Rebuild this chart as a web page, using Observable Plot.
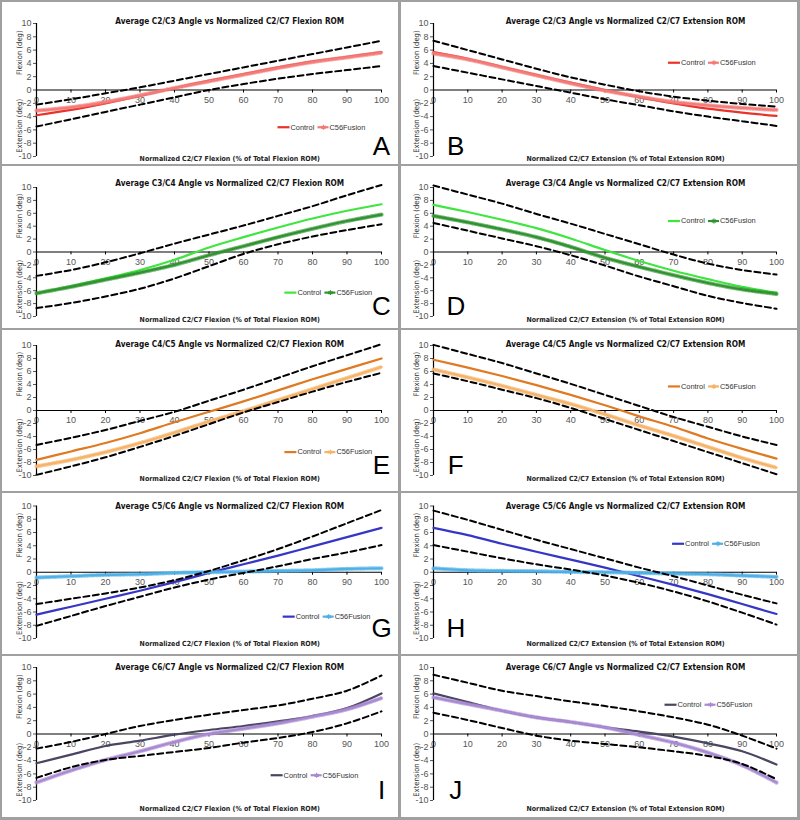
<!DOCTYPE html>
<html><head><meta charset="utf-8">
<script src="https://cdn.jsdelivr.net/npm/d3@7"></script>
<script src="https://cdn.jsdelivr.net/npm/@observablehq/plot@0.6"></script>
<style>
body{margin:0;background:#fff;}
#grid{position:relative;width:800px;height:820px;background:#a0a0a0;}
.panel{position:absolute;background:#fff;overflow:hidden;}
.panel svg{display:block;}
</style></head><body><div id="grid"></div>
<script>
// ---------- data ----------
const xs = [0,10,20,30,40,50,60,70,80,90,100];
const xTicks = [0,10,20,30,40,50,60,70,80,90,100];
const yTicks = [-10,-8,-6,-4,-2,0,2,4,6,8,10];
const seriesNames = ["Control","C56Fusion"];
const panelLetters = ["A","B","C","D","E","F","G","H","I","J"];
const panelTitles = [
  "Average C2/C3 Angle vs Normalized C2/C7 Flexion ROM",
  "Average C2/C3 Angle vs Normalized C2/C7 Extension ROM",
  "Average C3/C4 Angle vs Normalized C2/C7 Flexion ROM",
  "Average C3/C4 Angle vs Normalized C2/C7 Extension ROM",
  "Average C4/C5 Angle vs Normalized C2/C7 Flexion ROM",
  "Average C4/C5 Angle vs Normalized C2/C7 Extension ROM",
  "Average C5/C6 Angle vs Normalized C2/C7 Flexion ROM",
  "Average C5/C6 Angle vs Normalized C2/C7 Extension ROM",
  "Average C6/C7 Angle vs Normalized C2/C7 Flexion ROM",
  "Average C6/C7 Angle vs Normalized C2/C7 Extension ROM"
];
const xTitleFlexion = "Normalized C2/C7 Flexion (% of Total Flexion ROM)";
const xTitleExtension = "Normalized C2/C7 Extension (% of Total Extension ROM)";
const yTitleUpper = "Flexion (deg)";
const yTitleLower = "Extension (deg)";

// A: C2/C3 flexion
const aControl = [-3.8,-3.0,-2.0,-0.9,0.3,1.4,2.4,3.4,4.3,5.0,5.7];
const aFusion  = [-3.1,-2.6,-1.8,-0.8,0.3,1.3,2.3,3.3,4.2,4.9,5.6];
const aUpper   = [-2.2,-1.4,-0.5,0.4,1.4,2.4,3.4,4.4,5.4,6.4,7.4];
const aLower   = [-5.5,-4.4,-3.3,-2.2,-1.1,0.0,0.9,1.7,2.4,3.0,3.6];
// B: C2/C3 extension
const bControl = [5.7,4.7,3.5,2.3,1.1,0.0,-1.1,-2.0,-2.8,-3.4,-3.9];
const bFusion  = [5.5,4.6,3.4,2.2,1.0,-0.1,-1.0,-1.8,-2.3,-2.7,-3.0];
const bUpper   = [7.4,6.0,4.6,3.2,1.9,0.8,-0.2,-1.0,-1.6,-2.1,-2.5];
const bLower   = [3.6,2.6,1.6,0.6,-0.4,-1.4,-2.3,-3.2,-4.0,-4.7,-5.4];
// C: C3/C4 flexion
const cControl = [-6.4,-5.3,-4.1,-2.8,-1.2,0.7,2.3,3.8,5.2,6.4,7.4];
const cFusion  = [-6.4,-5.4,-4.3,-3.2,-2.0,-0.5,0.9,2.3,3.6,4.8,5.8];
const cUpper   = [-3.7,-2.8,-1.6,-0.2,1.3,2.7,4.1,5.6,7.1,8.8,10.4];
const cLower   = [-8.7,-7.9,-6.9,-5.7,-4.1,-2.2,-0.3,1.2,2.4,3.4,4.3];
// D: C3/C4 extension
const dControl = [7.3,6.2,5.0,3.7,2.1,0.3,-1.4,-2.9,-4.2,-5.4,-6.3];
const dFusion  = [5.6,4.6,3.5,2.3,0.8,-0.9,-2.3,-3.6,-4.8,-5.8,-6.5];
const dUpper   = [10.3,8.9,7.5,5.9,4.4,2.8,1.2,-0.4,-1.8,-2.8,-3.5];
const dLower   = [4.5,3.3,2.1,0.9,-0.5,-2.1,-3.8,-5.3,-6.8,-7.9,-8.8];
// E: C4/C5 flexion
const eControl = [-7.6,-6.3,-5.0,-3.5,-1.8,-0.2,1.4,3.1,4.8,6.4,8.0];
const eFusion  = [-8.6,-7.6,-6.4,-5.0,-3.4,-1.7,-0.1,1.6,3.3,5.0,6.7];
const eUpper   = [-5.3,-4.2,-3.0,-1.6,-0.2,1.5,3.2,5.0,6.8,8.5,10.2];
const eLower   = [-9.9,-8.6,-7.2,-5.6,-3.9,-2.1,-0.3,1.3,2.9,4.4,5.8];
// F: C4/C5 extension
const fControl = [7.8,6.6,5.3,3.9,2.4,0.8,-0.9,-2.5,-4.3,-5.9,-7.4];
const fFusion  = [6.3,5.1,3.8,2.4,1.0,-0.6,-2.3,-3.9,-5.6,-7.3,-8.8];
const fUpper   = [10.1,8.7,7.3,5.7,4.1,2.4,0.7,-1.0,-2.5,-4.0,-5.3];
const fLower   = [5.7,4.5,3.2,1.9,0.4,-1.3,-3.0,-4.7,-6.4,-8.1,-9.8];
// G: C5/C6 flexion
const gControl = [-6.4,-5.2,-4.0,-2.8,-1.5,-0.1,1.2,2.5,3.9,5.3,6.7];
const gFusion  = [-0.8,-0.6,-0.4,-0.3,-0.1,0.0,0.1,0.2,0.3,0.5,0.6];
const gUpper   = [-4.8,-4.0,-3.2,-2.3,-1.2,0.2,1.8,3.5,5.4,7.4,9.4];
const gLower   = [-8.1,-6.6,-5.1,-3.7,-2.3,-1.1,-0.1,0.9,2.0,3.0,4.1];
// H: C5/C6 extension
const hControl = [6.7,5.6,4.3,3.1,1.9,0.7,-0.6,-1.9,-3.3,-4.8,-6.3];
const hFusion  = [0.6,0.3,0.2,0.15,0.05,0.0,-0.1,-0.2,-0.3,-0.5,-0.7];
const hUpper   = [9.3,7.9,6.4,4.9,3.5,2.1,0.7,-0.6,-2.0,-3.4,-4.7];
const hLower   = [4.1,3.1,2.1,1.2,0.4,-0.5,-1.6,-2.9,-4.4,-6.1,-7.9];
// I: C6/C7 flexion
const iControl = [-4.4,-3.1,-1.8,-1.0,-0.1,0.6,1.2,1.9,2.7,3.9,6.1];
const iFusion  = [-7.3,-5.5,-3.9,-2.6,-1.2,0.0,0.8,1.6,2.6,3.7,5.4];
const iUpper   = [-2.2,-1.2,0.0,1.2,2.1,2.9,3.6,4.3,5.3,6.5,8.8];
const iLower   = [-6.6,-5.0,-3.9,-3.3,-2.7,-2.1,-1.3,-0.6,0.3,1.6,3.4];
// J: C6/C7 extension
const jControl = [6.1,4.8,3.5,2.5,1.8,1.0,0.35,-0.4,-1.4,-2.6,-4.6];
const jFusion  = [5.5,4.5,3.5,2.5,1.8,1.0,-0.15,-1.3,-2.8,-4.7,-7.3];
const jUpper   = [8.9,7.7,6.5,5.7,4.9,4.2,3.4,2.5,1.4,-0.25,-2.2];
const jLower   = [3.2,2.1,0.9,-0.25,-1.0,-1.5,-2.0,-2.6,-3.3,-4.5,-6.8];

const panelSeries = [
  [aControl,aFusion,aUpper,aLower],[bControl,bFusion,bUpper,bLower],
  [cControl,cFusion,cUpper,cLower],[dControl,dFusion,dUpper,dLower],
  [eControl,eFusion,eUpper,eLower],[fControl,fFusion,fUpper,fLower],
  [gControl,gFusion,gUpper,gLower],[hControl,hFusion,hUpper,hLower],
  [iControl,iFusion,iUpper,iLower],[jControl,jFusion,jUpper,jLower]
];

// ---------- styling / layout ----------
const rowColors = [
  ["#e8322b","#f27b78"],
  ["#3fe63f","#2f932f"],
  ["#e07a22","#f6b46a"],
  ["#3636c6","#4fb0e6"],
  ["#4a4560","#a98ad2"]
];
const rows = [
  {top:2,   h:162, mt:21,   mb:8,  titleY:16, xTitleY:158},
  {top:166, h:162, mt:21,   mb:12, titleY:14, xTitleY:155},
  {top:330, h:161, mt:15,   mb:16, titleY:11, xTitleY:150},
  {top:493, h:161, mt:12.5, mb:16, titleY:10, xTitleY:152},
  {top:656, h:161, mt:11,   mb:17, titleY:8,  xTitleY:154}
];
const cols = [
  {left:2,   w:396, ml:34, mr:17, letterX:100},
  {left:401, w:396, ml:32, mr:21, letterX:6.5}
];
const legendPos = [[70,-5.6],[68.5,4.1],[72,-6.3],[68.5,4.8],[72,-6.4],[68.5,3.7],[71.5,-6.7],[69.7,4.3],[68,-6.2],[67.5,4.4]];

const condensed = "'DejaVu Sans Condensed', 'Liberation Sans', sans-serif";
const regular = "'Liberation Sans', Arial, sans-serif";

const grid = document.getElementById("grid");
const toPts = arr => arr.map((y,i) => ({x: xs[i], y}));

panelLetters.forEach((letter, p) => {
  const r = rows[Math.floor(p/2)], c = cols[p%2];
  const [ctrlColor, fusColor] = rowColors[Math.floor(p/2)];
  const [ctrl, fus, up, lo] = panelSeries[p].map(toPts);
  const k = (c.w - c.ml - c.mr) / 100; // px per x unit
  const [lx, ly] = legendPos[p];
  const xTitle = p % 2 === 0 ? xTitleFlexion : xTitleExtension;

  const chart = Plot.plot({
    width: c.w, height: r.h,
    marginLeft: c.ml, marginRight: c.mr, marginTop: r.mt, marginBottom: r.mb,
    x: {domain: [0,100], axis: null},
    y: {domain: [-10,10], axis: null},
    style: {fontFamily: regular, background: "#fff", overflow: "visible"},
    marks: [
      // x axis at y=0
      Plot.ruleY([0], {stroke: "#000", strokeWidth: 1.2}),
      Plot.ruleX(xTicks, {x: d => d, y1: 0, y2: -0.45, stroke: "#000", strokeWidth: 1}),
      Plot.text(xTicks, {x: d => d, y: 0, dy: 10, text: d => String(d), fontSize: 9, fill: "#555"}),
      // y axis
      Plot.axisY({ticks: yTicks, tickSize: 3, tickPadding: 2, fontSize: 9, tickFormat: d => String(d), color: "#555", label: null}),
      Plot.ruleX([0], {stroke: "#000", strokeWidth: 1.2}),
      Plot.text([yTitleUpper], {x: 0, y: 5.6, dx: -17, rotate: -90, fontSize: 7.6, fontFamily: condensed, fill: "#333"}),
      Plot.text([yTitleLower], {x: 0, y: -5.4, dx: -17, rotate: -90, fontSize: 7.6, fontFamily: condensed, fill: "#333"}),
      // series
      Plot.line(ctrl, {x: "x", y: "y", stroke: ctrlColor, strokeWidth: 2.2, curve: "catmull-rom"}),
      Plot.line(fus, {x: "x", y: "y", stroke: fusColor, strokeWidth: 2.2, curve: "catmull-rom"}),
      Plot.line(fus, {x: "x", y: "y", stroke: fusColor, strokeWidth: 4.2, strokeDasharray: "1,2", strokeOpacity: 0.65, curve: "catmull-rom"}),
      Plot.line(up, {x: "x", y: "y", stroke: "#000", strokeWidth: 2, strokeDasharray: "6,3.5", curve: "catmull-rom"}),
      Plot.line(lo, {x: "x", y: "y", stroke: "#000", strokeWidth: 2, strokeDasharray: "6,3.5", curve: "catmull-rom"}),
      // legend
      Plot.ruleY([ly], {x1: lx, x2: lx + 12/k, stroke: ctrlColor, strokeWidth: 2.2}),
      Plot.text([seriesNames[0]], {x: lx + 12/k, y: ly, textAnchor: "start", dx: 0.5, fontSize: 7.4, fill: "#333"}),
      Plot.ruleY([ly], {x1: lx + 40/k, x2: lx + 51/k, stroke: fusColor, strokeWidth: 2.2}),
      Plot.dot([ly], {x: lx + 45.5/k, y: d => d, symbol: "asterisk", r: 2.3, stroke: fusColor, strokeWidth: 1.2}),
      Plot.text([seriesNames[1]], {x: lx + 51/k, y: ly, textAnchor: "start", dx: 0.5, fontSize: 7.4, fill: "#333"}),
      // titles
      Plot.text([panelTitles[p]], {x: 56, frameAnchor: "top", dy: r.titleY - r.mt, fontSize: 8.2, fontWeight: "bold", fontFamily: condensed, fill: "#111"}),
      Plot.text([xTitle], {x: 56, frameAnchor: "bottom", dy: r.xTitleY - (r.h - r.mb), fontSize: 7.0, fontWeight: "bold", fontFamily: condensed, fill: "#222"}),
      // panel letter
      Plot.text([letter], {x: c.letterX, y: -10, dy: -2, lineAnchor: "bottom", fontSize: 26, fill: "#000"})
    ]
  });
  const div = document.createElement("div");
  div.className = "panel";
  div.style.left = c.left + "px"; div.style.top = r.top + "px";
  div.style.width = c.w + "px"; div.style.height = r.h + "px";
  div.appendChild(chart);
  grid.appendChild(div);
});
</script></body></html>
